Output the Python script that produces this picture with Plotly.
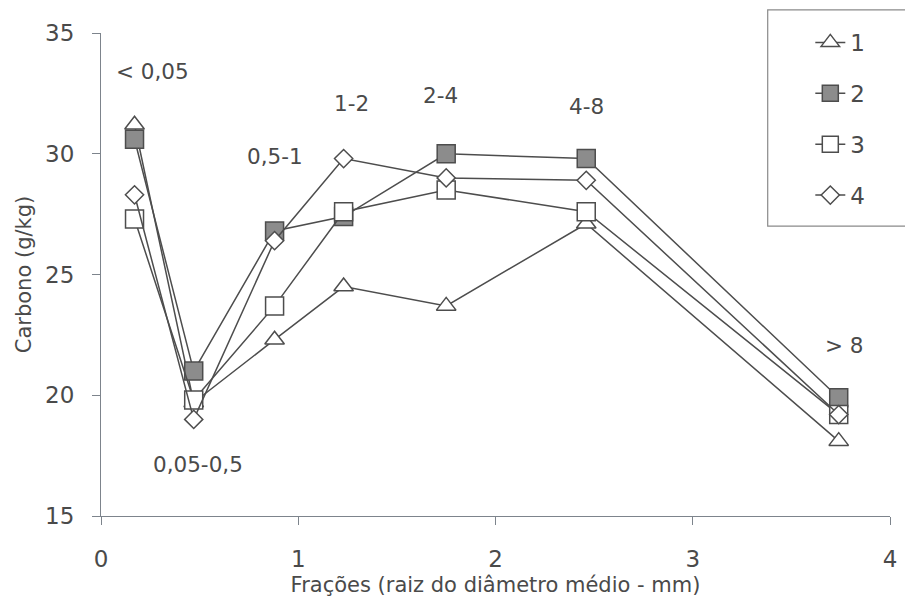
import plotly.graph_objects as go

# ---- data ----
x_frac = [0.17, 0.47, 0.88, 1.23, 1.75, 2.46, 3.74]
series_names = ["1", "2", "3", "4"]
s1 = [31.2, 19.7, 22.3, 24.5, 23.7, 27.1, 18.1]
s2 = [30.6, 21.0, 26.8, 27.4, 30.0, 29.8, 19.9]
s3 = [27.3, 19.8, 23.7, 27.6, 28.5, 27.6, 19.2]
s4 = [28.3, 19.0, 26.4, 29.8, 29.0, 28.9, 19.2]

frac_labels = ["< 0,05", "0,05-0,5", "0,5-1", "1-2", "2-4", "4-8", "> 8"]
label_x = [0.26, 0.49, 0.88, 1.27, 1.72, 2.46, 3.77]
label_y = [33.4, 17.15, 29.9, 32.1, 32.4, 31.95, 22.05]

x_ticks = [0, 1, 2, 3, 4]
y_ticks = [15, 20, 25, 30, 35]

# ---- styles ----
FONT = "DejaVu Sans"
TXT = "#4a4a4a"
LINE = "#4d4d4d"
AX = "#7d848c"

styles = [
    dict(symbol="triangle-up", size=17, color="white"),
    dict(symbol="square", size=18, color="#8c8c8c"),
    dict(symbol="square", size=18, color="white"),
    dict(symbol="diamond", size=14, color="white"),
]

fig = go.Figure()
for name, vals, st in zip(series_names, [s1, s2, s3, s4], styles):
    fig.add_trace(go.Scatter(
        x=x_frac, y=vals, name=name, legendgroup=name,
        mode="lines+markers",
        line=dict(color=LINE, width=1.5),
        marker=dict(symbol=st["symbol"], size=st["size"], color=st["color"],
                    line=dict(color=LINE, width=1.5)),
    ))

for t, xx, yy in zip(frac_labels, label_x, label_y):
    fig.add_annotation(x=xx, y=yy, text=t, showarrow=False,
                       font=dict(family=FONT, size=21.5, color=TXT))

# legend frame (extends past the right edge, like the reference)
fig.add_shape(type="rect", xref="paper", yref="paper",
              x0=0.845, x1=1.06, y0=0.6, y1=1.048,
              line=dict(color="#8a8a8a", width=1.2), fillcolor="rgba(0,0,0,0)")

fig.update_layout(
    width=905, height=602,
    margin=dict(l=101, r=15, t=33, b=86, autoexpand=False),
    paper_bgcolor="white", plot_bgcolor="white",
    font=dict(family=FONT, color=TXT),
    legend=dict(x=0.899, xanchor="left", y=1.025, yanchor="top",
                bgcolor="rgba(0,0,0,0)", borderwidth=0,
                font=dict(family=FONT, size=23, color=TXT),
                tracegroupgap=18, traceorder="grouped"),
    showlegend=True,
)
fig.update_xaxes(range=[0, 4], tickvals=x_ticks, ticktext=[str(v) for v in x_ticks],
                 automargin=False,
                 showgrid=False, zeroline=False, showline=True, linecolor=AX, linewidth=1.2,
                 ticks="outside", ticklen=8, tickcolor=AX, tickwidth=1.2,
                 ticklabelstandoff=14,
                 tickfont=dict(family=FONT, size=23, color=TXT),
                 title=dict(text="Frações (raiz do diâmetro médio - mm)",
                            font=dict(family=FONT, size=21, color=TXT), standoff=6))
fig.update_yaxes(range=[15, 35], tickvals=y_ticks, ticktext=[str(v) for v in y_ticks],
                 automargin=False,
                 showgrid=False, zeroline=False, showline=True, linecolor=AX, linewidth=1.2,
                 ticks="outside", ticklen=8, tickcolor=AX, tickwidth=1.2,
                 ticklabelstandoff=13,
                 tickfont=dict(family=FONT, size=23, color=TXT),
                 title=dict(text="Carbono (g/kg)",
                            font=dict(family=FONT, size=21, color=TXT), standoff=7))

fig.write_html("out.html", config={"displayModeBar": False},
               post_script="document.body.style.margin='0';document.body.style.overflow='hidden';")
